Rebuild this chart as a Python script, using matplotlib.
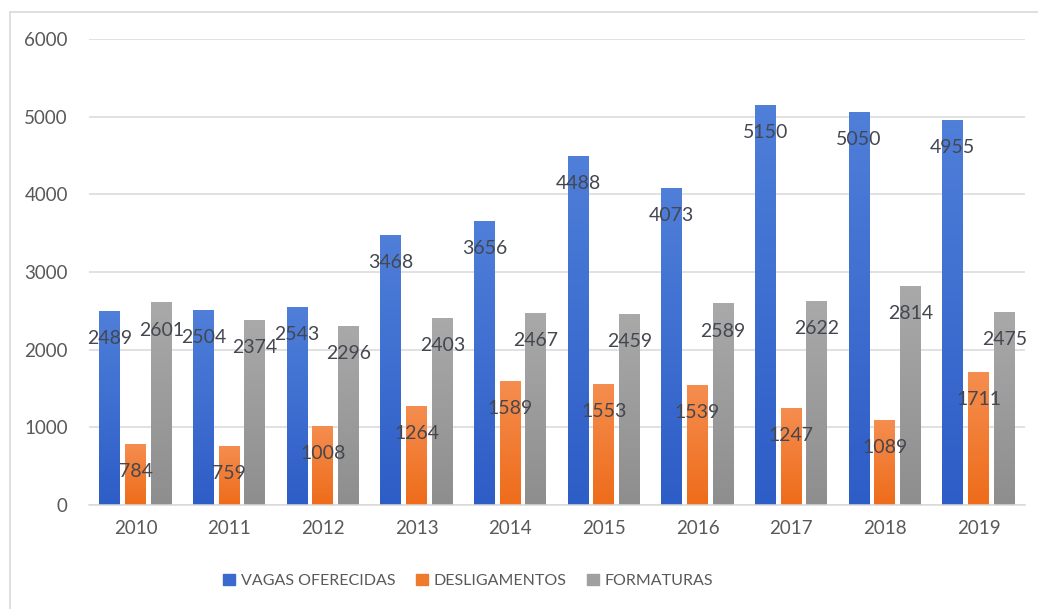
import matplotlib
matplotlib.use("Agg")
import matplotlib.pyplot as plt
import numpy as np
from matplotlib.colors import to_rgb
from matplotlib.patches import Rectangle

years = ["2010", "2011", "2012", "2013", "2014", "2015", "2016", "2017", "2018", "2019"]
vagas = [2489, 2504, 2543, 3468, 3656, 4488, 4073, 5150, 5050, 4955]
deslig = [784, 759, 1008, 1264, 1589, 1553, 1539, 1247, 1089, 1711]
format_ = [2601, 2374, 2296, 2403, 2467, 2459, 2589, 2622, 2814, 2475]
series_names = ["VAGAS OFERECIDAS", "DESLIGAMENTOS", "FORMATURAS"]
series_vals = [vagas, deslig, format_]
top_colors = ["#4f7fd9", "#f58d4f", "#a9a9a9"]
bot_colors = ["#2d5dc6", "#ee6c1a", "#8e8e8e"]
legend_colors = ["#3a69cf", "#f07a2c", "#a0a0a0"]

plt.rcParams['font.family'] = ['Lato', 'DejaVu Sans']
W, H = 1038, 609
fig = plt.figure(figsize=(W / 100, H / 100), dpi=100)
ax = fig.add_axes([88.7 / W, (H - 505) / H, (1025.3 - 88.7) / W, (505 - 39) / H])

# outer frame
fig.patches.append(Rectangle((10 / W, -0.1), 1.2, (H - 12) / H + 0.1,
                             transform=fig.transFigure, fill=False,
                             edgecolor="#d9d9d9", linewidth=1.2))

x = np.arange(len(years))
offs = [-0.275, 0.0, 0.275]
width = 0.224
text_color = "#595959"

for i, (name, vals) in enumerate(zip(series_names, series_vals)):
    bars = ax.bar(x + offs[i], vals, width=width, color=legend_colors[i], label=name, zorder=2)
    t = np.array(to_rgb(top_colors[i]))
    b = np.array(to_rgb(bot_colors[i]))
    grad = np.linspace(0, 1, 64)[:, None]
    img = (t[None, None, :] * (1 - grad[..., None]) + b[None, None, :] * grad[..., None])
    for rect in bars:
        x0 = rect.get_x()
        h = rect.get_height()
        ax.imshow(img, extent=(x0, x0 + rect.get_width(), 0, h), origin='upper',
                  aspect='auto', zorder=2.5, interpolation='bilinear')
    for xi, v in zip(x + offs[i], vals):
        ax.annotate(str(v), (xi, v), xytext=(0, -19.5), textcoords='offset points',
                    ha='center', va='center', fontsize=14, color="#44474f", zorder=4)

ax.set_xlim(-0.5, len(years) - 0.5)
ax.set_ylim(0, 6000)
ax.set_yticks(range(0, 6001, 1000))
ax.set_xticks(x)
ax.set_xticklabels(years)
ax.tick_params(axis='both', length=0, labelsize=13.5, labelcolor=text_color)
ax.tick_params(axis='y', pad=15)
ax.tick_params(axis='x', pad=11)
ax.grid(axis='y', color="#d9d9d9", linewidth=1.1, zorder=0)
ax.set_axisbelow(True)
for s in ["top", "right", "left"]:
    ax.spines[s].set_visible(False)
ax.spines["bottom"].set_color("#d9d9d9")
ax.spines["bottom"].set_linewidth(1.1)

handles = [Rectangle((0, 0), 1, 1, color=c) for c in legend_colors]
fig.legend(handles, series_names, loc='center', bbox_to_anchor=(468 / W, (H - 581) / H),
           ncol=3, frameon=False, fontsize=11.5, handlelength=0.75, handleheight=0.75,
           handletextpad=0.35, columnspacing=1.3, labelcolor=text_color)

fig.savefig("out.png", dpi=100, facecolor="white")
